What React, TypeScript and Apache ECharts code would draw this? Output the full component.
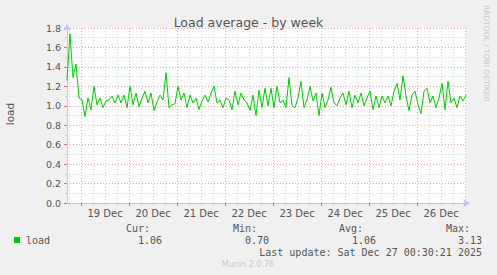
import React, { useEffect, useRef } from "react";
import * as echarts from "echarts";

// Load average readings, one every 1.5 hours, starting Dec 18 17:00 (hours relative to Dec 19 00:00)
const startHour = -7;
const stepHours = 1.5;
const endHour = 192.5;
const loadValues = [
  1.26, 1.74, 1.29, 1.43, 1.08, 1.06, 0.89, 1.08, 0.96, 1.2, 1.01, 1.08, 0.98, 1.05, 1.06, 1.1, 1.03, 1.11, 1.03, 1.11, 0.98, 1.2, 1.01,
  1.13, 0.99, 1.08, 1.15, 1.03, 1.13, 0.95, 1.04, 1.11, 1.06, 1.34, 0.98, 1.01, 1.02, 1.2, 1.06, 1.13, 0.98, 1.11, 1.03, 1.08, 0.96,
  1.05, 1.11, 1.04, 1.13, 1.2, 1.03, 1.06, 0.98, 1.08, 1.06, 0.96, 1.15, 1.01, 1.13, 1.06, 1.03, 0.95, 1.11, 0.9, 1.16, 0.98, 1.18,
  1.0, 1.18, 0.98, 1.2, 1.03, 1.06, 0.98, 1.29, 1.0, 0.98, 1.08, 1.25, 0.98, 1.06, 1.2, 1.05, 1.13, 0.9, 1.13, 0.98, 1.06, 1.19,
  1.03, 1.0, 1.08, 1.13, 1.01, 1.15, 0.98, 1.11, 1.03, 1.13, 1.0, 1.08, 1.15, 0.96, 1.1, 0.98, 1.1, 1.03, 1.1, 1.0, 1.15, 1.23,
  1.06, 1.31, 1.1, 0.95, 1.11, 1.15, 1.01, 0.92, 1.15, 1.18, 1.03, 1.1, 0.98, 1.08, 1.23, 0.96, 1.25, 1.03, 1.08, 0.98, 1.1, 1.05, 1.11,
];
const dayLabels = ["19 Dec", "20 Dec", "21 Dec", "22 Dec", "23 Dec", "24 Dec", "25 Dec", "26 Dec"];
const yMin = 0;
const yMax = 1.8;
const yInterval = 0.2;

const legendHeaders = ["Cur:", "Min:", "Avg:", "Max:"];
const legendValues = ["1.06", "0.70", "1.06", "3.13"];
const seriesName = "load";
const lastUpdate = "Last update: Sat Dec 27 00:30:21 2025";

const TEXT = "#555555";
const MAJOR = "#eeaaaa";
const MINOR = "#d6d6d6";
const AXIS = "#c4c4f0";
const GREEN = "#00cc00";

export default function App() {
  const ref = useRef<HTMLDivElement>(null);
  useEffect(() => {
    document.body.style.margin = "0";
    const chart = echarts.init(ref.current!, null, { renderer: "svg" });

    // vertical split lines every hour; only 6h (grey) and midnight (red) are visible
    const vColors: string[] = [];
    for (let k = 0; k < 24; k++) {
      const h = (((startHour + k) % 24) + 24) % 24;
      vColors.push(h === 0 ? MAJOR : h % 6 === 0 ? MINOR : "rgba(0,0,0,0)");
    }
    const midnights: number[] = [];
    const sixHours: number[] = [];
    for (let h = 0; h <= endHour; h += 6) {
      if (h % 24 === 0) midnights.push(h);
      else sixHours.push(h);
    }
    for (let h = -6; h < 0; h += 6) sixHours.unshift(h);

    const mono = "DejaVu Sans Mono";
    const sans = "DejaVu Sans";
    const headerRight = [150, 257, 363, 470];
    const valueRight = [162, 269, 376, 482];

    const graphic: any[] = [];
    legendHeaders.forEach((t, i) =>
      graphic.push({
        type: "text",
        x: headerRight[i],
        y: 228,
        style: { text: t, fill: TEXT, font: `10px "${mono}"`, textAlign: "right", textVerticalAlign: "middle" },
      })
    );
    legendValues.forEach((t, i) =>
      graphic.push({
        type: "text",
        x: valueRight[i],
        y: 240,
        style: { text: t, fill: TEXT, font: `10px "${mono}"`, textAlign: "right", textVerticalAlign: "middle" },
      })
    );
    graphic.push(
      { type: "rect", shape: { x: 14, y: 237, width: 6, height: 6 }, style: { fill: GREEN } },
      {
        type: "text",
        x: 26,
        y: 240,
        style: { text: seriesName, fill: TEXT, font: `10px "${mono}"`, textAlign: "left", textVerticalAlign: "middle" },
      },
      {
        type: "text",
        x: 482,
        y: 252,
        style: { text: lastUpdate, fill: TEXT, font: `10px "${mono}"`, textAlign: "right", textVerticalAlign: "middle" },
      },
      {
        type: "text",
        x: 248,
        y: 264,
        style: { text: "Munin 2.0.76", fill: "#c8c8c8", font: `8px "${sans}"`, textAlign: "center", textVerticalAlign: "middle" },
      },
      {
        type: "text",
        x: 486,
        y: 5,
        rotation: -Math.PI / 2,
        style: {
          text: "RRDTOOL / TOBI OETIKER",
          fill: "#c8c8c8",
          font: `7.5px "${sans}"`,
          textAlign: "left",
          textVerticalAlign: "middle",
        },
      },
      {
        type: "text",
        x: 10,
        y: 114,
        rotation: Math.PI / 2,
        style: { text: "load", fill: TEXT, font: `10.5px "${sans}"`, textAlign: "center", textVerticalAlign: "middle" },
      }
    );

    const baseX = {
      type: "value",
      gridIndex: 0,
      min: startHour,
      max: endHour,
      position: "bottom",
    };

    chart.setOption({
      animation: false,
      backgroundColor: "#f0f0f0",
      title: {
        text: "Load average - by week",
        left: "center",
        top: 11,
        textStyle: { fontFamily: sans, fontSize: 12.5, fontWeight: "normal", color: TEXT },
      },
      grid: {
        left: 67,
        right: 31,
        top: 28,
        bottom: 72,
        show: true,
        backgroundColor: "#ffffff",
        borderWidth: 0,
      },
      xAxis: [
        {
          ...baseX,
          interval: 1,
          axisLine: {
            show: true,
            onZero: false,
            symbol: ["none", "arrow"],
            symbolSize: [6, 7],
            symbolOffset: [0, 4],
            lineStyle: { color: AXIS, width: 1 },
          },
          axisTick: { show: false },
          axisLabel: {
            color: TEXT,
            fontFamily: sans,
            fontSize: 10,
            margin: 5,
            showMinLabel: false,
            showMaxLabel: false,
            formatter: (v: number) => {
              const r = (((v % 24) + 24) % 24);
              if (Math.abs(r - 12) > 1e-6) return "";
              const idx = Math.round((v - 12) / 24);
              return dayLabels[idx] ?? "";
            },
          },
          splitLine: { show: true, lineStyle: { color: vColors, width: 1, type: [1, 2] } },
        },
        {
          ...baseX,
          axisLine: { show: false, onZero: false },
          axisLabel: { show: false },
          splitLine: { show: false },
          axisTick: { show: true, customValues: midnights, length: 3, lineStyle: { color: "#e07070" } },
        },
        {
          ...baseX,
          axisLine: { show: false, onZero: false },
          axisLabel: { show: false },
          splitLine: { show: false },
          axisTick: { show: true, customValues: sixHours, length: 2, lineStyle: { color: "#cccccc" } },
        },
      ],
      yAxis: {
        type: "value",
        min: yMin,
        max: yMax,
        interval: yInterval,
        axisLine: {
          show: true,
          onZero: false,
          symbol: ["none", "arrow"],
          symbolSize: [6, 7],
          symbolOffset: [0, 4],
          lineStyle: { color: AXIS, width: 1 },
        },
        axisTick: { show: true, length: 3, lineStyle: { color: "#e07070" } },
        minorTick: { show: true, splitNumber: 2, length: 2, lineStyle: { color: "#cccccc" } },
        axisLabel: {
          color: TEXT,
          fontFamily: sans,
          fontSize: 9.5,
          margin: 6,
          formatter: (v: number) => v.toFixed(1),
        },
        splitLine: { show: true, lineStyle: { color: MAJOR, width: 1, type: [1, 2] } },
        minorSplitLine: { show: true, lineStyle: { color: MINOR, width: 1, type: [1, 2] } },
      },
      series: [
        {
          type: "line",
          name: seriesName,
          xAxisIndex: 0,
          showSymbol: false,
          symbol: "none",
          lineStyle: { color: GREEN, width: 1 },
          data: loadValues.map((v, i) => [startHour + i * stepHours, v]),
        },
      ],
      graphic,
    });
    return () => chart.dispose();
  }, []);
  return <div ref={ref} style={{ position: "fixed", left: 0, top: 0, width: 497, height: 275 }} />;
}
